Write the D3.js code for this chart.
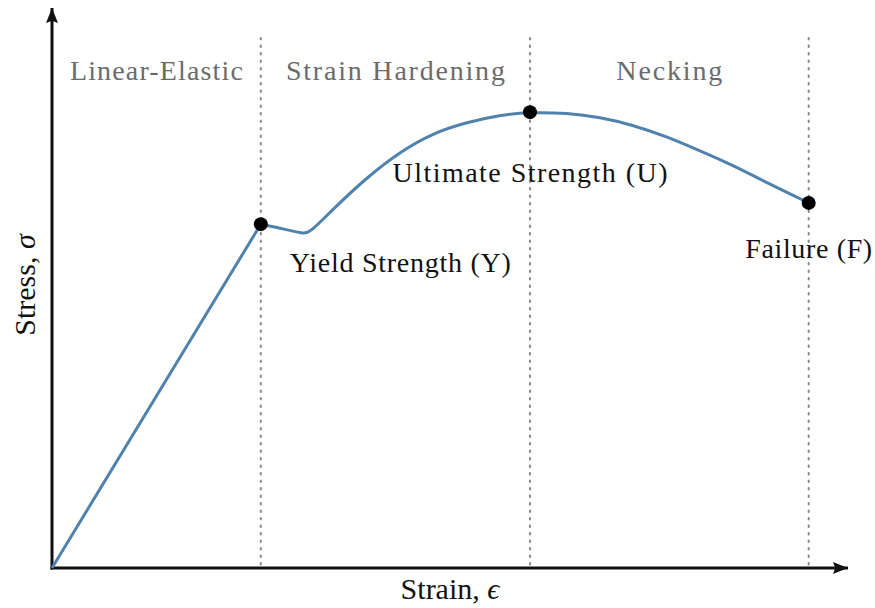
<!DOCTYPE html>
<html>
<head>
<meta charset="utf-8">
<script src="https://cdn.jsdelivr.net/npm/d3@7"></script>
<style>
  body { margin: 0; background: #fff; }
  text { font-family: "Liberation Serif", "DejaVu Serif", serif; }
</style>
</head>
<body>
<script>
//Width and height
var w = 875;
var h = 608;

//Curve points (strain, stress) in arbitrary units
//elastic part is straight, the rest (yield drop, hardening, necking) is smooth
var elasticStrain = [0, 26.3];
var elasticStress = [0, 61.4];
var plasticStrain = [26.3, 29.35, 31.6, 32.5, 35.4, 39.7, 43.8, 48.0, 52.3, 56.4, 60.2, 64.9, 69.0, 73.2, 77.5, 81.6, 85.8, 90.1, 95.3];
var plasticStress = [61.4, 60.5, 59.7, 59.9, 64.1, 69.8, 74.3, 77.7, 79.6, 80.9, 81.4, 81.25, 80.5, 79.1, 77.0, 74.5, 71.9, 68.75, 65.2];

//Key points
var pointNames = ["Yield Strength (Y)", "Ultimate Strength (U)", "Failure (F)"];
var pointStrain = [26.3, 60.2, 95.3];
var pointStress = [61.4, 81.4, 65.2];

//Regions
var regionNames = ["Linear-Elastic", "Strain Hardening", "Necking"];
var regionStart = [0, 26.3, 60.2];
var regionEnd = [26.3, 60.2, 95.3];

//Scales
var xScale = d3.scaleLinear().domain([0, 100]).range([52, 846]);
var yScale = d3.scaleLinear().domain([0, 100]).range([568, 8]);

var svg = d3.select("body")
    .append("svg")
    .attr("width", w)
    .attr("height", h);

//Arrow marker
svg.append("defs").append("marker")
    .attr("id", "arrow")
    .attr("viewBox", "0 0 10 10")
    .attr("refX", 10)
    .attr("refY", 5)
    .attr("markerWidth", 15)
    .attr("markerHeight", 12)
    .attr("markerUnits", "userSpaceOnUse")
    .attr("orient", "auto")
    .attr("preserveAspectRatio", "none")
    .append("path")
    .attr("d", "M0,0 L10,5 L0,10 L1.5,5 Z")
    .attr("fill", "#111");

//Dotted region boundaries
svg.selectAll("line.div")
    .data(pointStrain)
    .enter()
    .append("line")
    .attr("class", "div")
    .attr("x1", d => xScale(d))
    .attr("x2", d => xScale(d))
    .attr("y1", 38)
    .attr("y2", yScale(0))
    .attr("stroke", "#888")
    .attr("stroke-width", 2)
    .attr("stroke-dasharray", "1.5,6")
    .attr("stroke-linecap", "round");

//Region labels
var regionWidth = [173, 219, 106];
svg.selectAll("text.region")
    .data(regionNames)
    .enter()
    .append("text")
    .attr("class", "region")
    .attr("x", (d, i) => (xScale(regionStart[i]) + xScale(regionEnd[i])) / 2)
    .attr("y", 80)
    .attr("text-anchor", "middle")
    .attr("font-size", 28)
    .attr("textLength", (d, i) => regionWidth[i])
    .attr("fill", "#6b6b6b")
    .text(d => d);

//Axes with arrows
svg.append("line")
    .attr("x1", xScale(0)).attr("y1", yScale(0) + 1.5)
    .attr("x2", xScale(0)).attr("y2", 8)
    .attr("stroke", "#111").attr("stroke-width", 3)
    .attr("marker-end", "url(#arrow)");
svg.append("line")
    .attr("x1", xScale(0) - 1.5).attr("y1", yScale(0))
    .attr("x2", 848).attr("y2", yScale(0))
    .attr("stroke", "#111").attr("stroke-width", 3)
    .attr("marker-end", "url(#arrow)");

//Stress-strain curve
var toPts = (xs, ys) => xs.map((d, i) => [xScale(d), yScale(ys[i])]);
var elastic = d3.line().curve(d3.curveLinear);
var plastic = d3.line().curve(d3.curveBasis);

svg.append("path")
    .attr("d", elastic(toPts(elasticStrain, elasticStress)) + plastic(toPts(plasticStrain, plasticStress)))
    .attr("fill", "none")
    .attr("stroke", "#4f82ac")
    .attr("stroke-width", 3)
    .attr("stroke-linejoin", "round");

//Key points
svg.selectAll("circle")
    .data(pointStrain)
    .enter()
    .append("circle")
    .attr("cx", d => xScale(d))
    .attr("cy", (d, i) => yScale(pointStress[i]))
    .attr("r", 7)
    .attr("fill", "#000");

//Point labels
var labelAnchor = ["start", "middle", "middle"];
var labelDx = [29, 0, 0];
var labelDy = [48, 70, 55];
var labelWidth = [221, 275, 127];
svg.selectAll("text.point")
    .data(pointNames)
    .enter()
    .append("text")
    .attr("class", "point")
    .attr("x", (d, i) => xScale(pointStrain[i]) + labelDx[i])
    .attr("y", (d, i) => yScale(pointStress[i]) + labelDy[i])
    .attr("text-anchor", (d, i) => labelAnchor[i])
    .attr("font-size", 28)
    .attr("textLength", (d, i) => labelWidth[i])
    .attr("fill", "#111")
    .text(d => d);

//Axis titles
var xt = svg.append("text")
    .attr("x", 450)
    .attr("y", 599)
    .attr("text-anchor", "middle")
    .attr("font-size", 30)
    .attr("fill", "#111");
xt.append("tspan").text("Strain, ");
xt.append("tspan").attr("font-style", "italic").text("\u03f5");

var yt = svg.append("text")
    .attr("transform", "translate(35,285) rotate(-90)")
    .attr("text-anchor", "middle")
    .attr("font-size", 30)
    .attr("fill", "#111");
yt.append("tspan").text("Stress, ");
yt.append("tspan").attr("font-style", "italic").text("\u03c3");
</script>
</body>
</html>
